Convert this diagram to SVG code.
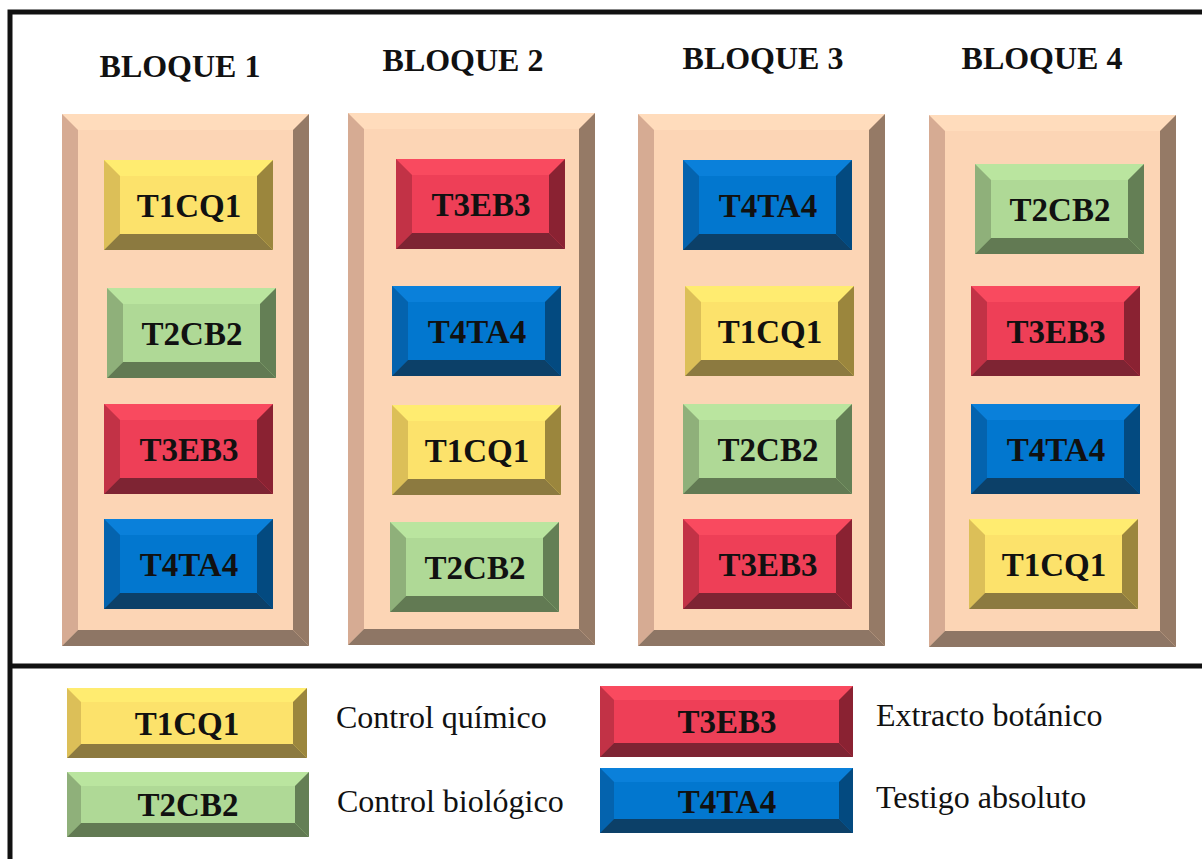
<svg xmlns="http://www.w3.org/2000/svg" xmlns:xlink="http://www.w3.org/1999/xlink" width="1202" height="859" viewBox="0 0 1202 859">
  <style>
    .frame { fill: none; stroke: #111; stroke-width: 5; }
    .title { font-family: "Liberation Serif", "Times New Roman", serif; font-weight: bold; font-size: 32px; fill: #111; text-anchor: middle; }
    .lbl { font-family: "Liberation Serif", "Times New Roman", serif; font-weight: bold; font-size: 33px; fill: #111; text-anchor: middle; }
    .desc { font-family: "Liberation Serif", "Times New Roman", serif; font-size: 32px; fill: #111; }
    /* peach block */
    .p-face { fill: #fcd5b5; } .p-top { fill: #ffdcbc; } .p-left { fill: #d6ab93; } .p-right { fill: #957a66; } .p-bot { fill: #8e7665; }
    /* yellow */
    .y-face { fill: #fce26b; } .y-top { fill: #ffec70; } .y-left { fill: #dcbf58; } .y-right { fill: #9b863d; } .y-bot { fill: #8c7a40; }
    /* green */
    .g-face { fill: #afd996; } .g-top { fill: #bae59f; } .g-left { fill: #8fb07a; } .g-right { fill: #647f55; } .g-bot { fill: #627a53; }
    /* red */
    .r-face { fill: #ee3f57; } .r-top { fill: #f94a5f; } .r-left { fill: #c23246; } .r-right { fill: #8a2232; } .r-bot { fill: #7e2433; }
    /* blue */
    .b-face { fill: #0277cf; } .b-top { fill: #0a80da; } .b-left { fill: #0463ae; } .b-right { fill: #034a80; } .b-bot { fill: #0c4068; }
  </style>
  <defs>
    <!-- large bevelled plot block, 247 x 532, bevel 16 -->
    <symbol id="block" width="247" height="532" overflow="visible">
      <rect class="p-face" x="0" y="0" width="247" height="532"/>
      <polygon class="p-top" points="0,0 247,0 231,16 16,16"/>
      <polygon class="p-left" points="0,0 16,16 16,516 0,532"/>
      <polygon class="p-right" points="247,0 247,532 231,516 231,16"/>
      <polygon class="p-bot" points="0,532 16,516 231,516 247,532"/>
    </symbol>
    <!-- treatment tiles, 169 x 90, bevel 16 -->
    <symbol id="tile-y" width="169" height="90" overflow="visible">
      <rect class="y-face" width="169" height="90"/>
      <polygon class="y-top" points="0,0 169,0 153,16 16,16"/>
      <polygon class="y-left" points="0,0 16,16 16,74 0,90"/>
      <polygon class="y-right" points="169,0 169,90 153,74 153,16"/>
      <polygon class="y-bot" points="0,90 16,74 153,74 169,90"/>
    </symbol>
    <symbol id="tile-g" width="169" height="90" overflow="visible">
      <rect class="g-face" width="169" height="90"/>
      <polygon class="g-top" points="0,0 169,0 153,16 16,16"/>
      <polygon class="g-left" points="0,0 16,16 16,74 0,90"/>
      <polygon class="g-right" points="169,0 169,90 153,74 153,16"/>
      <polygon class="g-bot" points="0,90 16,74 153,74 169,90"/>
    </symbol>
    <symbol id="tile-r" width="169" height="90" overflow="visible">
      <rect class="r-face" width="169" height="90"/>
      <polygon class="r-top" points="0,0 169,0 153,16 16,16"/>
      <polygon class="r-left" points="0,0 16,16 16,74 0,90"/>
      <polygon class="r-right" points="169,0 169,90 153,74 153,16"/>
      <polygon class="r-bot" points="0,90 16,74 153,74 169,90"/>
    </symbol>
    <symbol id="tile-b" width="169" height="90" overflow="visible">
      <rect class="b-face" width="169" height="90"/>
      <polygon class="b-top" points="0,0 169,0 153,16 16,16"/>
      <polygon class="b-left" points="0,0 16,16 16,74 0,90"/>
      <polygon class="b-right" points="169,0 169,90 153,74 153,16"/>
      <polygon class="b-bot" points="0,90 16,74 153,74 169,90"/>
    </symbol>
  </defs>

  <rect width="1202" height="859" fill="#fff"/>

  <!-- outer frame and legend divider -->
  <g id="frame">
    <rect class="frame" x="10" y="12" width="1200" height="860"/>
    <line class="frame" x1="10" y1="666" x2="1210" y2="666"/>
  </g>

  <!-- block titles -->
  <g id="titles">
    <text class="title" x="180" y="77">BLOQUE 1</text>
    <text class="title" x="463" y="71">BLOQUE 2</text>
    <text class="title" x="763" y="69">BLOQUE 3</text>
    <text class="title" x="1042" y="69">BLOQUE 4</text>
  </g>

  <!-- BLOQUE 1 -->
  <g id="bloque1">
    <use href="#block" x="62" y="114"/>
    <g id="b1-t1cq1"><use href="#tile-y" x="104" y="160"/><text class="lbl" x="189" y="217">T1CQ1</text></g>
    <g id="b1-t2cb2"><use href="#tile-g" x="107" y="288"/><text class="lbl" x="192" y="345">T2CB2</text></g>
    <g id="b1-t3eb3"><use href="#tile-r" x="104" y="404"/><text class="lbl" x="189" y="461">T3EB3</text></g>
    <g id="b1-t4ta4"><use href="#tile-b" x="104" y="519"/><text class="lbl" x="189" y="576">T4TA4</text></g>
  </g>

  <!-- BLOQUE 2 -->
  <g id="bloque2">
    <use href="#block" x="348" y="113"/>
    <g id="b2-t3eb3"><use href="#tile-r" x="396" y="159"/><text class="lbl" x="481" y="216">T3EB3</text></g>
    <g id="b2-t4ta4"><use href="#tile-b" x="392" y="286"/><text class="lbl" x="477" y="343">T4TA4</text></g>
    <g id="b2-t1cq1"><use href="#tile-y" x="392" y="405"/><text class="lbl" x="477" y="462">T1CQ1</text></g>
    <g id="b2-t2cb2"><use href="#tile-g" x="390" y="522"/><text class="lbl" x="475" y="579">T2CB2</text></g>
  </g>

  <!-- BLOQUE 3 -->
  <g id="bloque3">
    <use href="#block" x="638" y="114"/>
    <g id="b3-t4ta4"><use href="#tile-b" x="683" y="160"/><text class="lbl" x="768" y="217">T4TA4</text></g>
    <g id="b3-t1cq1"><use href="#tile-y" x="685" y="286"/><text class="lbl" x="770" y="343">T1CQ1</text></g>
    <g id="b3-t2cb2"><use href="#tile-g" x="683" y="404"/><text class="lbl" x="768" y="461">T2CB2</text></g>
    <g id="b3-t3eb3"><use href="#tile-r" x="683" y="519"/><text class="lbl" x="768" y="576">T3EB3</text></g>
  </g>

  <!-- BLOQUE 4 -->
  <g id="bloque4">
    <use href="#block" x="929" y="115"/>
    <g id="b4-t2cb2"><use href="#tile-g" x="975" y="164"/><text class="lbl" x="1060" y="221">T2CB2</text></g>
    <g id="b4-t3eb3"><use href="#tile-r" x="971" y="286"/><text class="lbl" x="1056" y="343">T3EB3</text></g>
    <g id="b4-t4ta4"><use href="#tile-b" x="971" y="404"/><text class="lbl" x="1056" y="461">T4TA4</text></g>
    <g id="b4-t1cq1"><use href="#tile-y" x="969" y="519"/><text class="lbl" x="1054" y="576">T1CQ1</text></g>
  </g>

  <!-- legend -->
  <g id="legend-t1cq1">
    <rect class="y-face" x="67" y="688" width="240" height="70"/>
    <polygon class="y-top" points="67,688 307,688 293,702 81,702"/>
    <polygon class="y-left" points="67,688 81,702 81,744 67,758"/>
    <polygon class="y-right" points="307,688 307,758 293,744 293,702"/>
    <polygon class="y-bot" points="67,758 81,744 293,744 307,758"/>
    <text class="lbl" x="187" y="735">T1CQ1</text>
    <text class="desc" x="336" y="728">Control químico</text>
  </g>
  <g id="legend-t2cb2">
    <rect class="g-face" x="67" y="772" width="242" height="65"/>
    <polygon class="g-top" points="67,772 309,772 295,786 81,786"/>
    <polygon class="g-left" points="67,772 81,786 81,823 67,837"/>
    <polygon class="g-right" points="309,772 309,837 295,823 295,786"/>
    <polygon class="g-bot" points="67,837 81,823 295,823 309,837"/>
    <text class="lbl" x="188" y="816">T2CB2</text>
    <text class="desc" x="337" y="812">Control biológico</text>
  </g>
  <g id="legend-t3eb3">
    <rect class="r-face" x="600" y="686" width="253" height="71"/>
    <polygon class="r-top" points="600,686 853,686 839,700 614,700"/>
    <polygon class="r-left" points="600,686 614,700 614,743 600,757"/>
    <polygon class="r-right" points="853,686 853,757 839,743 839,700"/>
    <polygon class="r-bot" points="600,757 614,743 839,743 853,757"/>
    <text class="lbl" x="727" y="733">T3EB3</text>
    <text class="desc" x="876" y="726">Extracto botánico</text>
  </g>
  <g id="legend-t4ta4">
    <rect class="b-face" x="600" y="768" width="253" height="65"/>
    <polygon class="b-top" points="600,768 853,768 839,782 614,782"/>
    <polygon class="b-left" points="600,768 614,782 614,819 600,833"/>
    <polygon class="b-right" points="853,768 853,833 839,819 839,782"/>
    <polygon class="b-bot" points="600,833 614,819 839,819 853,833"/>
    <text class="lbl" x="727" y="813">T4TA4</text>
    <text class="desc" x="876" y="808">Testigo absoluto</text>
  </g>
</svg>
